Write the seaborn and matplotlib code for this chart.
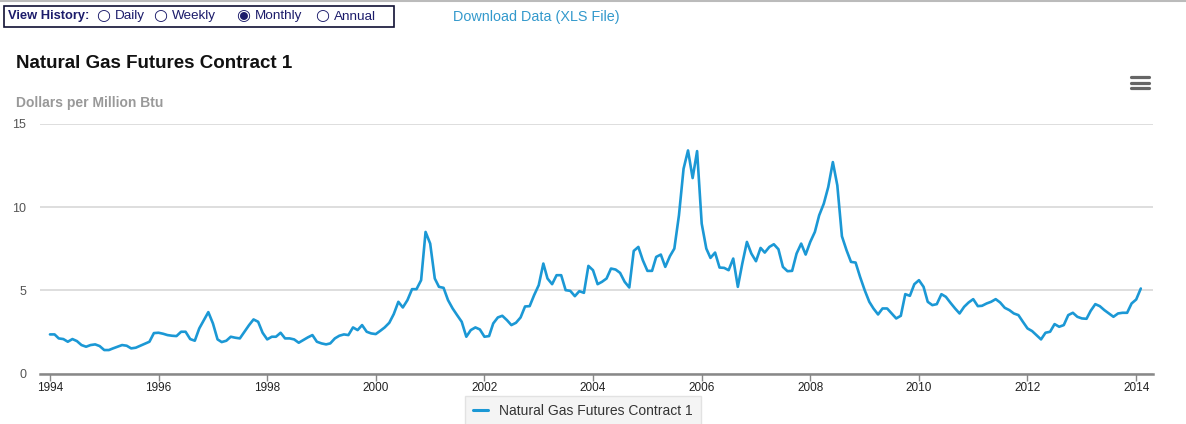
import matplotlib
matplotlib.use("Agg")
import matplotlib.pyplot as plt
import matplotlib.dates as mdates
from matplotlib.lines import Line2D
from matplotlib.patches import Rectangle
import seaborn as sns
import pandas as pd
import numpy as np

# monthly values, Jan 1994 .. Feb 2014
p1994 = [2.35, 2.35, 2.11, 2.07, 1.91, 2.07, 1.95, 1.71, 1.61, 1.71, 1.75, 1.65]
p1995 = [1.41, 1.41, 1.51, 1.61, 1.71, 1.67, 1.51, 1.55, 1.67, 1.79, 1.91, 2.43]
p1996 = [2.45, 2.39, 2.31, 2.27, 2.25, 2.51, 2.51, 2.07, 1.97, 2.71, 3.21, 3.69]
p1997 = [3.01, 2.05, 1.89, 1.97, 2.21, 2.15, 2.11, 2.51, 2.91, 3.25, 3.11, 2.45]
p1998 = [2.05, 2.21, 2.21, 2.45, 2.11, 2.11, 2.05, 1.85, 2.01, 2.17, 2.31, 1.91]
p1999 = [1.81, 1.75, 1.81, 2.11, 2.27, 2.35, 2.31, 2.77, 2.61, 2.91, 2.51, 2.41]
p2000 = [2.37, 2.57, 2.77, 3.05, 3.57, 4.31, 3.97, 4.41, 5.07, 5.07, 5.61, 8.51]
p2001 = [7.81, 5.71, 5.21, 5.15, 4.41, 3.91, 3.51, 3.11, 2.21, 2.61, 2.77, 2.65]
p2002 = [2.21, 2.25, 3.01, 3.37, 3.47, 3.21, 2.91, 3.05, 3.37, 4.03, 4.05, 4.71]
p2003 = [5.31, 6.61, 5.71, 5.37, 5.91, 5.91, 5.01, 4.97, 4.65, 4.95, 4.85, 6.47]
p2004 = [6.21, 5.37, 5.51, 5.71, 6.31, 6.25, 6.05, 5.51, 5.17, 7.37, 7.61, 6.81]
p2005 = [6.17, 6.17, 7.01, 7.15, 6.41, 7.05, 7.51, 9.51, 12.31, 13.41, 11.75, 13.37]
p2006 = [9.01, 7.51, 6.95, 7.27, 6.37, 6.35, 6.21, 6.91, 5.21, 6.61, 7.91, 7.21]
p2007 = [6.75, 7.55, 7.27, 7.61, 7.77, 7.47, 6.41, 6.15, 6.17, 7.21, 7.81, 7.15]
p2008 = [7.91, 8.51, 9.51, 10.21, 11.21, 12.71, 11.31, 8.25, 7.41, 6.71, 6.67, 5.81]
p2009 = [5.01, 4.31, 3.91, 3.55, 3.91, 3.91, 3.61, 3.31, 3.47, 4.77, 4.67, 5.37]
p2010 = [5.61, 5.21, 4.31, 4.11, 4.17, 4.77, 4.61, 4.25, 3.91, 3.61, 4.01, 4.27]
p2011 = [4.47, 4.05, 4.07, 4.21, 4.31, 4.47, 4.27, 3.95, 3.81, 3.61, 3.51, 3.11]
p2012 = [2.71, 2.55, 2.31, 2.05, 2.45, 2.51, 2.97, 2.81, 2.91, 3.51, 3.65, 3.41]
p2013 = [3.31, 3.29, 3.77, 4.17, 4.05, 3.81, 3.61, 3.41, 3.61, 3.65, 3.65, 4.21]
p2014 = [4.45, 5.11]

prices = (p1994 + p1995 + p1996 + p1997 + p1998 + p1999 + p2000 + p2001 + p2002
          + p2003 + p2004 + p2005 + p2006 + p2007 + p2008 + p2009 + p2010
          + p2011 + p2012 + p2013 + p2014)
dates = pd.date_range("1994-01-01", periods=len(prices), freq="MS")
series_name = "Natural Gas Futures Contract 1"
y_ticks = [0, 5, 10, 15]

df = pd.DataFrame({"date": dates, "price": prices})

sns.set_theme(style="white")
plt.rcParams['font.family'] = ['Liberation Sans', 'DejaVu Sans']

W, H = 1186, 424
fig = plt.figure(figsize=(W / 100, H / 100), dpi=100)

def fx(px):
    return px / W

def fy(py):
    return 1 - py / H

ax = fig.add_axes([fx(40), fy(373.5), fx(1153) - fx(40), fy(124) - fy(373.5)])

line_color = "#1b98d5"
sns.lineplot(data=df, x="date", y="price", ax=ax, color=line_color,
             linewidth=1.9, label=series_name)

ax.set_ylim(0, 15)
ax.set_yticks(y_ticks)
ax.set_xlim(pd.Timestamp("1993-10-26"), pd.Timestamp("2014-04-24"))
ax.xaxis.set_major_locator(mdates.YearLocator(2))
ax.xaxis.set_major_formatter(mdates.DateFormatter("%Y"))
ax.set_xlabel("")
ax.set_ylabel("")

ax.grid(axis="y", color="#d8d8d8", linewidth=1.2)
ax.grid(axis="x", visible=False)
for s in ["left", "right", "top"]:
    ax.spines[s].set_visible(False)
ax.spines["bottom"].set_color("#888888")
ax.spines["bottom"].set_linewidth(1.8)
ax.tick_params(axis="y", length=0, pad=10, labelsize=9, labelcolor="#555555")
ax.tick_params(axis="x", direction="out", length=5, width=1, color="#888888",
               pad=1, labelsize=8.5, labelcolor="#222222", bottom=True)

ax.legend_.remove()
leg = fig.legend(loc="upper center", bbox_to_anchor=(fx(583), fy(396)),
                 fontsize=10, frameon=True, handlelength=1.1, borderpad=0.55,
                 borderaxespad=0, fancybox=False, facecolor="#f2f2f2",
                 edgecolor="#dddddd")
for t in leg.get_texts():
    t.set_color("#333333")
for h in leg.legend_handles:
    h.set_linewidth(2.2)

# titles
fig.text(fx(16), fy(64), series_name, fontsize=13.5, fontweight="bold",
         color="#111111", va="center", ha="left")
fig.text(fx(16), fy(103.5), "Dollars per Million Btu", fontsize=10,
         fontweight="bold", color="#999999", va="center", ha="left")

# header: view history box and download link
fig.add_artist(Line2D([0, 1], [fy(0.5), fy(0.5)], color="#bbbbbb", lw=1.5))
fig.add_artist(Rectangle((fx(4), fy(27)), fx(394) - fx(4), fy(6) - fy(27),
                         fill=False, edgecolor="#111133", lw=1.2))
navy = "#1c1c6b"
fig.text(fx(8), fy(16.5), "View History:", fontsize=9.3, fontweight="bold",
         color=navy, va="center", ha="left")
for label, xpos, mark in [("Daily", 103, "○"), ("Weekly", 160, "○"),
                          ("Monthly", 243, "◉"), ("Annual", 322, "○")]:
    fig.text(fx(xpos), fy(16), mark, fontsize=11.5, color=navy,
             fontweight="bold", va="center", ha="center",
             family=["DejaVu Sans"])
    fig.text(fx(xpos + 12), fy(16.5), label, fontsize=9.7, color=navy,
             va="center", ha="left")
fig.text(fx(453), fy(16.5), "Download Data (XLS File)", fontsize=10.4,
         color="#3399cc", va="center", ha="left")

# menu icon
for yy in [77, 82.5, 88]:
    fig.add_artist(Line2D([fx(1131), fx(1149)], [fy(yy), fy(yy)],
                          color="#666666", lw=2.3, solid_capstyle="round"))

fig.savefig("out.png", dpi=100)
